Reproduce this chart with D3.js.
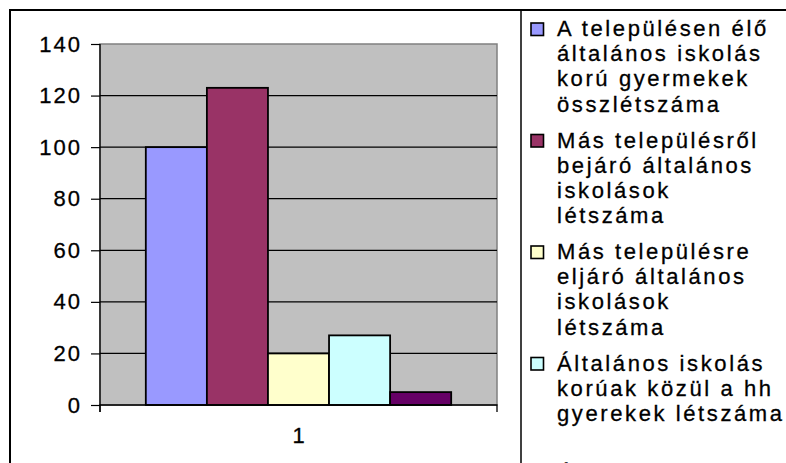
<!DOCTYPE html>
<html>
<head>
<meta charset="utf-8">
<script src="https://cdn.jsdelivr.net/npm/d3@7"></script>
<style>
  html, body { margin: 0; padding: 0; background: #fff; }
  svg { display: block; font-family: Arial, "Liberation Sans", sans-serif; }
</style>
</head>
<body>
<svg id="chart" width="786" height="463"></svg>
<script>
const categories = ["1"];
const seriesNames = [
  "A településen élő\náltalános iskolás\nkorú gyermekek\nösszlétszáma",
  "Más településről\nbejáró általános\niskolások\nlétszáma",
  "Más településre\neljáró általános\niskolások\nlétszáma",
  "Általános iskolás\nkorúak közül a hh\ngyerekek létszáma",
  "Általános iskolás\nkorúak közül a hhh\ngyerekek létszáma"
];
const seriesValues = [100, 123, 20, 27, 5];
const seriesColors = ["#9999FF", "#993366", "#FFFFCC", "#CCFFFF", "#660066"];
const yTickValues = [0, 20, 40, 60, 80, 100, 120, 140];

const svg = d3.select("#chart");
const W = 786, H = 463;
const plot = { left: 100, right: 497, top: 44, bottom: 405 };
const FONT = "Arial, 'Liberation Sans', sans-serif";

// outer chart border
svg.append("rect").attr("x", 10).attr("y", 10).attr("width", W + 20).attr("height", H + 20)
  .attr("fill", "#fff").attr("stroke", "#000").attr("stroke-width", 2);

// plot area
svg.append("rect").attr("x", plot.left).attr("y", plot.top)
  .attr("width", plot.right - plot.left).attr("height", plot.bottom - plot.top)
  .attr("fill", "#C0C0C0").attr("stroke", "#808080").attr("stroke-width", 1.5);

const y = d3.scaleLinear().domain([0, 140]).range([plot.bottom, plot.top]);
const x0 = d3.scaleBand().domain(categories).range([plot.left, plot.right])
  .paddingInner(0).paddingOuter(0.15);
const x1 = d3.scaleBand().domain(d3.range(seriesValues.length)).range([0, x0.bandwidth()]).padding(0);

// gridlines
svg.append("g").selectAll("line").data(yTickValues.filter(v => v > 0 && v < 140)).join("line")
  .attr("x1", plot.left).attr("x2", plot.right)
  .attr("y1", d => y(d)).attr("y2", d => y(d))
  .attr("stroke", "#000").attr("stroke-width", 1.2);

// bars
const g = svg.append("g");
categories.forEach(cat => {
  g.selectAll("rect.bar").data(seriesValues).join("rect").attr("class", "bar")
    .attr("x", (d, i) => x0(cat) + x1(i))
    .attr("y", d => y(d))
    .attr("width", x1.bandwidth())
    .attr("height", d => y(0) - y(d))
    .attr("fill", (d, i) => seriesColors[i])
    .attr("stroke", "#000").attr("stroke-width", 1.8);
});

// y axis
const yAxis = d3.axisLeft(y).tickValues(yTickValues).tickSize(9).tickPadding(9).tickFormat(d3.format("d"));
const ya = svg.append("g").attr("transform", `translate(${plot.left},0)`).call(yAxis);
ya.select(".domain").attr("stroke", "#000").attr("stroke-width", 1.3).attr("d", `M0,${plot.top}V${plot.bottom + 7}`);
ya.selectAll(".tick line").attr("stroke", "#000").attr("stroke-width", 1.2);
ya.selectAll(".tick text").attr("fill", "#000").attr("stroke", "#000").attr("stroke-width", 0.3)
  .attr("font-family", FONT).style("font-size", "22px")
  .style("letter-spacing", "2px");

// x axis
const xa = svg.append("g").attr("transform", `translate(0,${plot.bottom})`)
  .call(d3.axisBottom(d3.scaleBand().domain(categories).range([plot.left, plot.right])).tickSize(0).tickPadding(22));
xa.select(".domain").attr("stroke", "#000").attr("stroke-width", 1.3)
  .attr("d", `M${plot.left},7V0H${plot.right}V7`);
xa.selectAll(".tick text").attr("fill", "#000").attr("stroke", "#000").attr("stroke-width", 0.3)
  .attr("font-family", FONT).style("font-size", "22px");

// legend
svg.append("line").attr("x1", 521).attr("x2", 521).attr("y1", 10).attr("y2", H)
  .attr("stroke", "#000").attr("stroke-width", 1.5);
const legend = svg.append("g");
const entryStep = 111.5, lineStep = 25.2, firstBase = 36;
seriesNames.forEach((name, i) => {
  const base = firstBase + i * entryStep;
  legend.append("rect").attr("x", 531).attr("y", base - 13).attr("width", 12.5).attr("height", 12.5)
    .attr("fill", seriesColors[i]).attr("stroke", "#000").attr("stroke-width", 1.6);
  const t = legend.append("text").attr("x", 557).attr("y", base)
    .attr("font-family", FONT).style("font-size", "22px").attr("fill", "#000")
    .attr("stroke", "#000").attr("stroke-width", 0.3)
    .style("letter-spacing", "2.6px");
  name.split("\n").forEach((ln, j) => {
    t.append("tspan").attr("x", 557).attr("y", base + j * lineStep).text(ln);
  });
});
</script>
</body>
</html>
